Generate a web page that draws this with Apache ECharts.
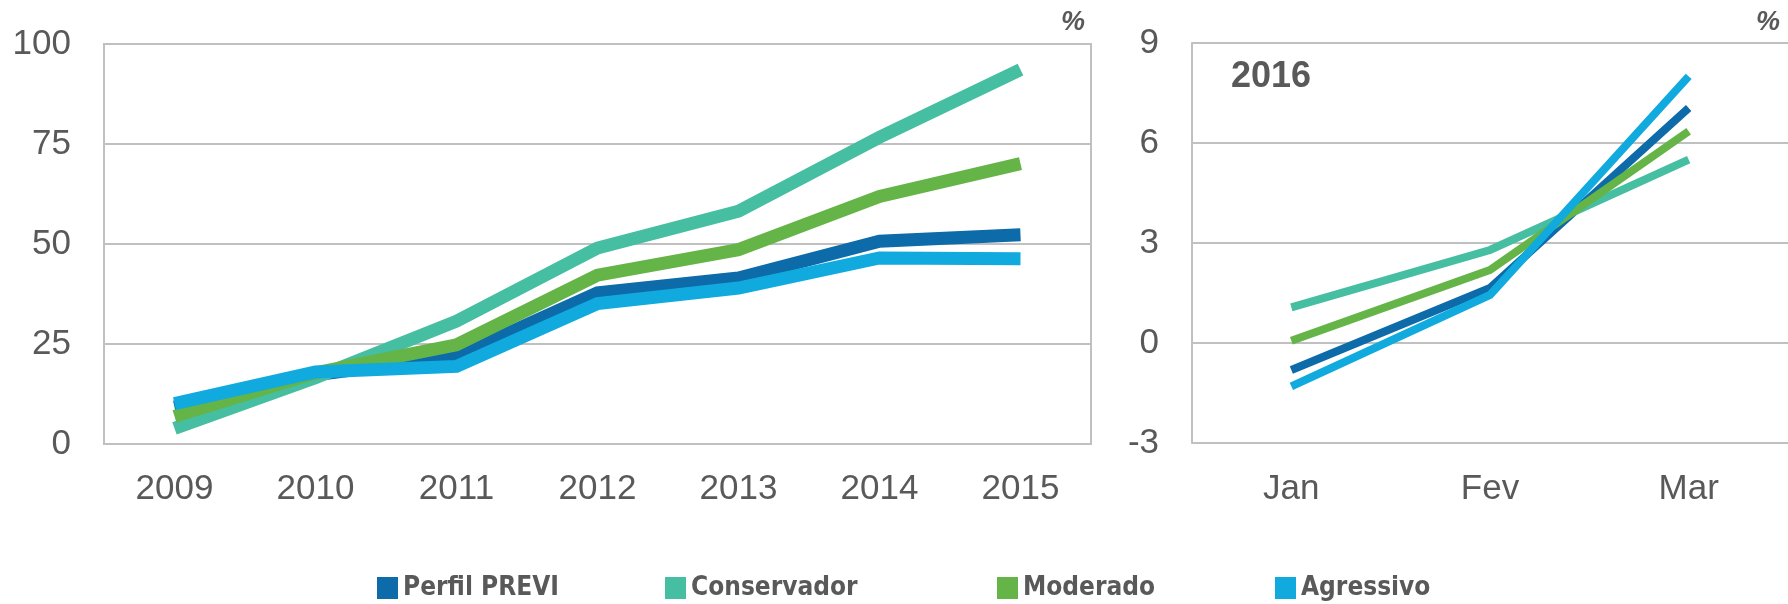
<!DOCTYPE html>
<html>
<head>
<meta charset="utf-8">
<script src="https://cdn.jsdelivr.net/npm/echarts@6/dist/echarts.min.js"></script>
<style>
  html, body { margin: 0; padding: 0; background: #fff; }
  #chart { width: 1788px; height: 604px; }
</style>
</head>
<body>
<div id="chart"></div>
<script>
const years = ["2009", "2010", "2011", "2012", "2013", "2014", "2015"];
const months = ["Jan", "Fev", "Mar"];

const seriesNames = ["Perfil PREVI", "Conservador", "Moderado", "Agressivo"];
const seriesColors = ["#0C6BA8", "#46BEA1", "#64B447", "#10AADF"];

// acumulado por ano (%)
const previYears = [9.2, 17.3, 21.9, 37.8, 41.5, 50.7, 52.3];
const conservadorYears = [3.9, 16.6, 30.7, 49.0, 58.2, 76.7, 93.6];
const moderadoYears = [6.9, 17.8, 24.8, 42.2, 48.6, 61.9, 70.1];
const agressivoYears = [10.1, 18.0, 19.4, 35.1, 39.0, 46.5, 46.3];

// 2016 (%)
const previMonths = [-0.81, 1.65, 7.05];
const conservadorMonths = [1.07, 2.79, 5.5];
const moderadoMonths = [0.07, 2.19, 6.35];
const agressivoMonths = [-1.3, 1.44, 8.0];

const leftTicks = { min: 0, max: 100, interval: 25 };
const rightTicks = { min: -3, max: 9, interval: 3 };

const yearData = [previYears, conservadorYears, moderadoYears, agressivoYears];
const monthData = [previMonths, conservadorMonths, moderadoMonths, agressivoMonths];

const textColor = "#595959";
const gridColor = "#C0C0C0";
const font = "Liberation Sans, Arial, sans-serif";

const chart = echarts.init(document.getElementById("chart"), null, { renderer: "canvas" });

const axisLabel = { color: textColor, fontSize: 35, fontFamily: font };

function lineSeries(i, data, axisIndex, width) {
  return {
    name: seriesNames[i],
    type: "line",
    xAxisIndex: axisIndex,
    yAxisIndex: axisIndex,
    data: data,
    symbol: "none",
    animation: false,
    color: seriesColors[i],
    lineStyle: { width: width, color: seriesColors[i], join: "miter", cap: "butt" }
  };
}

// legend default padding is 5, so these are square x minus 5
const legendLefts = [372, 660, 992, 1270];

const option = {
  backgroundColor: "#fff",
  animation: false,
  grid: [
    { left: 104, top: 44, width: 987, height: 400, show: true, borderColor: gridColor, borderWidth: 2 },
    // right panel runs off the page, so only its left edge is drawn
    { left: 1192, top: 43, width: 600, height: 400, show: false }
  ],
  xAxis: [
    {
      gridIndex: 0, type: "category", data: years, boundaryGap: true,
      axisLine: { show: false }, axisTick: { show: false },
      axisLabel: Object.assign({ margin: 28 }, axisLabel)
    },
    {
      gridIndex: 1, type: "category", data: months, boundaryGap: true,
      axisLine: { show: false }, axisTick: { show: false },
      axisLabel: Object.assign({ margin: 29 }, axisLabel)
    }
  ],
  yAxis: [
    {
      gridIndex: 0, type: "value", min: leftTicks.min, max: leftTicks.max, interval: leftTicks.interval,
      axisLine: { show: false }, axisTick: { show: false },
      splitLine: { lineStyle: { color: gridColor, width: 2 } },
      axisLabel: Object.assign({ margin: 33 }, axisLabel)
    },
    {
      gridIndex: 1, type: "value", min: rightTicks.min, max: rightTicks.max, interval: rightTicks.interval,
      axisLine: { show: true, lineStyle: { color: gridColor, width: 2 } }, axisTick: { show: false },
      splitLine: { lineStyle: { color: gridColor, width: 2 } },
      axisLabel: Object.assign({ margin: 33 }, axisLabel)
    }
  ],
  legend: seriesNames.map((name, i) => ({
    data: [name],
    left: legendLefts[i],
    top: 570,
    icon: "rect",
    itemWidth: 21,
    itemHeight: 22,
    selectedMode: false,
    textStyle: {
      color: textColor,
      fontSize: 26,
      fontWeight: "bold",
      fontFamily: "Liberation Sans Narrow, DejaVu Sans Condensed, Open Sans, sans-serif"
    }
  })),
  graphic: [
    {
      type: "text", left: 1061, top: 9,
      style: { text: "%", fill: textColor, font: "italic bold 27px " + font }
    },
    {
      type: "text", left: 1756, top: 9,
      style: { text: "%", fill: textColor, font: "italic bold 27px " + font }
    },
    {
      type: "text", left: 1231, top: 59,
      style: { text: "2016", fill: textColor, font: "bold 36px " + font }
    }
  ],
  series: []
};

yearData.forEach((d, i) => option.series.push(lineSeries(i, d, 0, 13)));
monthData.forEach((d, i) => option.series.push(lineSeries(i, d, 1, 8)));

chart.setOption(option);
</script>
</body>
</html>
